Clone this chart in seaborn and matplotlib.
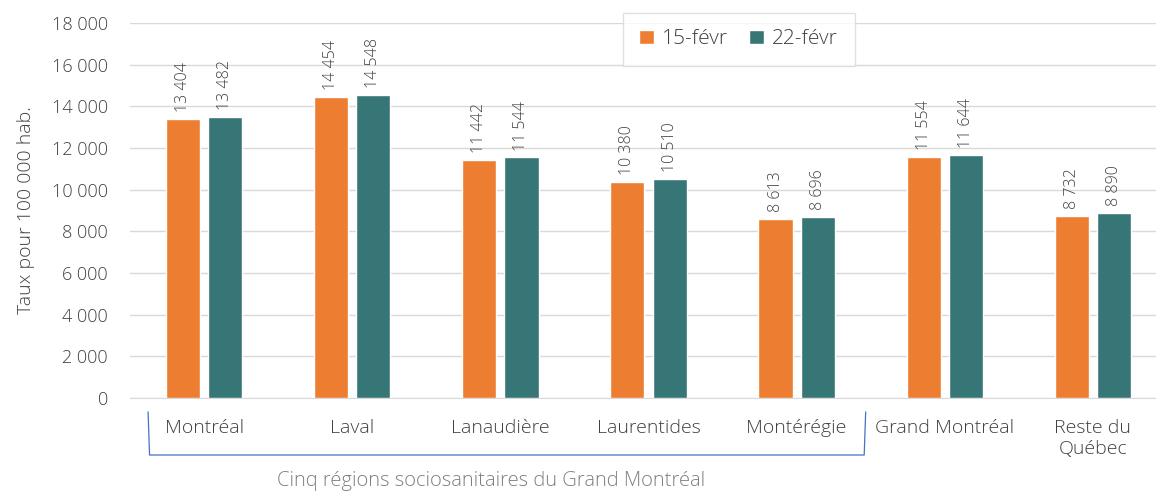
import pandas as pd
import seaborn as sns
import matplotlib.pyplot as plt
from matplotlib.ticker import FuncFormatter

regions = ["Montréal", "Laval", "Lanaudière", "Laurentides", "Montérégie",
           "Grand Montréal", "Reste du\nQuébec"]
dates = ["15-févr", "22-févr"]
taux_15 = [13404, 14454, 11442, 10380, 8613, 11554, 8732]
taux_22 = [13482, 14548, 11544, 10510, 8696, 11644, 8890]

colors = ["#ED7D31", "#377677"]
text_col = "#404040"

df = pd.DataFrame({
    "region": regions * 2,
    "date": [dates[0]] * len(regions) + [dates[1]] * len(regions),
    "taux": taux_15 + taux_22,
})

sns.set_style("white")
plt.rcParams['font.family'] = ['Open Sans', 'DejaVu Sans']
plt.rcParams['font.weight'] = 300

fig = plt.figure(figsize=(11.56, 4.96), dpi=100)
# axis runs a bit past the right edge, like the original
ax = fig.add_axes([130 / 1156, 98 / 496, 1037 / 1156, 375 / 496])

sns.barplot(data=df, x="region", y="taux", hue="date", palette=colors,
            width=0.57, gap=0.19, saturation=1, ax=ax, zorder=3)

ax.set_xlim(-0.5, len(regions) - 0.5)
ax.set_ylim(0, 18000)
ax.set_yticks(range(0, 18001, 2000))
ax.yaxis.set_major_formatter(FuncFormatter(lambda v, p: f"{int(v):,}".replace(",", " ")))
ax.grid(axis="y", color="#D9D9D9", linewidth=1, zorder=0)
for s in ["top", "right", "left"]:
    ax.spines[s].set_visible(False)
ax.spines["bottom"].set_color("#D9D9D9")
ax.tick_params(axis="y", length=0, labelsize=13, labelcolor=text_col, pad=16)
ax.tick_params(axis="x", length=0, labelsize=14, labelcolor=text_col, pad=15)
ax.set_xlabel("")
ax.set_ylabel("Taux pour 100 000 hab.", fontsize=14, fontweight=300, color=text_col, labelpad=12)

for cont in ax.containers:
    ax.bar_label(cont, labels=[f"{int(v.get_height()):,}".replace(",", " ") for v in cont],
                 rotation=90, padding=5, fontsize=11.5, color=text_col)

leg = ax.legend(loc="upper center", bbox_to_anchor=(0.587, 1.055), ncol=2,
                frameon=True, fontsize=15, handlelength=0.7, handleheight=0.7,
                handletextpad=0.4, columnspacing=1.0, borderpad=0.8, fancybox=False)
leg.get_frame().set_edgecolor("#D9D9D9")
leg.get_frame().set_linewidth(1)
for t in leg.get_texts():
    t.set_color(text_col)

# bracket under the five regions
trans = ax.get_xaxis_transform()
x0, x1 = -0.378, 4.466
y_top, y_bot = -0.037, -0.152
ax.plot([x0, x0 + 0.01, x1 - 0.01, x1], [y_top, y_bot, y_bot, y_top], transform=trans,
        color="#4472C4", linewidth=0.9, clip_on=False)
ax.text(1.94, -0.222, "Cinq régions sociosanitaires du Grand Montréal",
        transform=trans, ha="center", va="center", fontsize=14.5, color="#7F7F7F")

fig.savefig("out.png", dpi=100)
